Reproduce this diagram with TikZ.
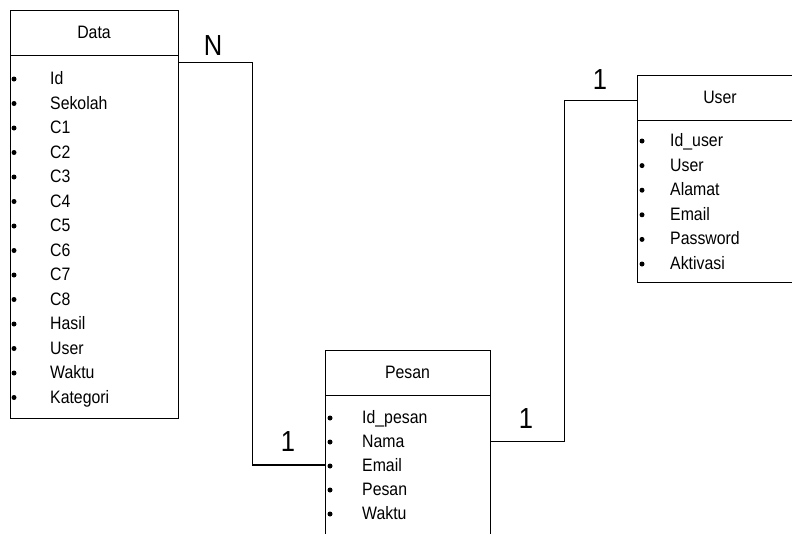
\documentclass[tikz,border=0pt]{standalone}
\usepackage{fontspec}
\setmainfont{Liberation Sans}[FakeStretch=0.88]
\usetikzlibrary{positioning}

\begin{document}
\begin{tikzpicture}[
        x=1pt, y=-1pt,
        head/.style={draw, line width=0.8pt, rectangle, inner sep=0pt, minimum height=45pt, font=\fontsize{18}{20}\selectfont},
        body/.style={draw, line width=0.8pt, rectangle, inner sep=0pt, below=0pt of #1},
        item/.style={anchor=base west, inner sep=0pt, font=\fontsize{18}{20}\selectfont},
        dot/.style={circle, fill, inner sep=0pt, minimum size=5pt},
        card/.style={font=\fontsize{29}{30}\selectfont, inner sep=0pt},
        rel/.style={line width=1.2pt}
      ]
      \useasboundingbox (0,0) rectangle (792,533);

      % entities
      \node[head, minimum width=168pt] (datahead) at (94,32.5) {Data};
      \node[body=datahead, minimum width=168pt, minimum height=363pt] (databody) {};
      \node[head, minimum width=165pt] (pesanhead) at (407.5,372.5) {Pesan};
      \node[body=pesanhead, minimum width=165pt, minimum height=170pt] (pesanbody) {};
      \node[head, minimum width=166pt] (userhead) at (720,97.5) {User};
      \node[body=userhead, minimum width=166pt, minimum height=162pt] (userbody) {};

      % attributes
      \foreach \t [count=\i] in {Id,Sekolah,C1,C2,C3,C4,C5,C6,C7,C8,Hasil,User,Waktu,Kategori} {
        \node[dot] at (14,79+24.5*\i-24.5) {};
        \node[item] (data-\i) at (50,84.5+24.5*\i-24.5) {\t};
      }
      \foreach \t [count=\i] in {Id\_pesan,Nama,Email,Pesan,Waktu} {
        \node[dot] at (330,418+24*\i-24) {};
        \node[item] (pesan-\i) at (362,423.5+24*\i-24) {\t};
      }
      \foreach \t [count=\i] in {Id\_user,User,Alamat,Email,Password,Aktivasi} {
        \node[dot] at (642,141+24.6*\i-24.6) {};
        \node[item] (user-\i) at (670,146.5+24.6*\i-24.6) {\t};
      }

      % relations
      \draw[rel] ([yshift=-7pt]databody.north east) -- ++(74,0) |- (pesanbody.west |- pesan-3);
      \draw[rel] (pesanbody.east |- pesan-2) -- ++(74,0) |- ([yshift=-3pt]userhead.west);

      \node[card] (cardN) at (213,46) {N};
      \node[card] (cardA) at (288,442) {1};
      \node[card] (cardB) at (526,419) {1};
      \node[card] (cardC) at (600,80) {1};

    \end{tikzpicture}
\end{document}
